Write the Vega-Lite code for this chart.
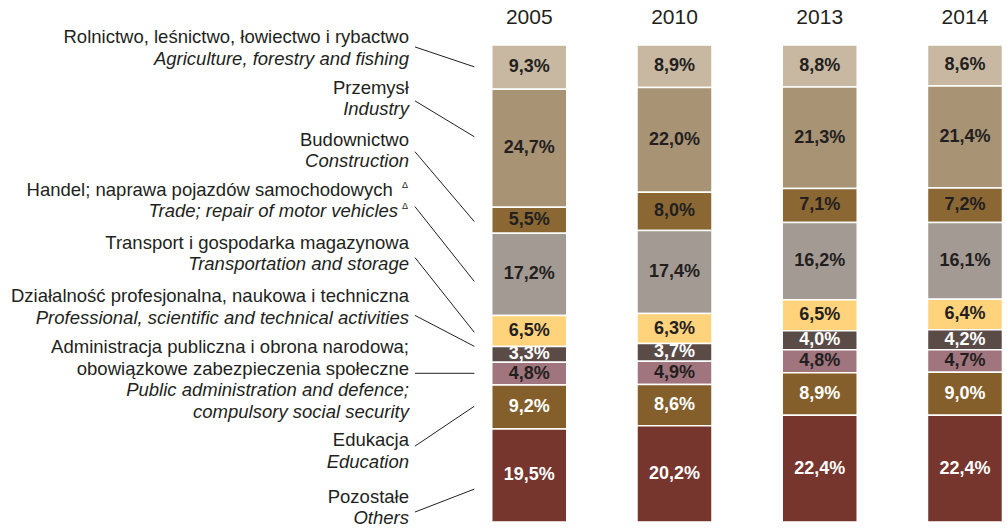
{
  "$schema": "https://vega.github.io/schema/vega-lite/v6.json",
  "width": 1007,
  "height": 528,
  "autosize": {"type": "fit", "contains": "padding"},
  "padding": 0,
  "background": "white",
  "config": {"view": {"stroke": null}, "font": "Liberation Sans"},
  "datasets": {
    "shares": [
      {"year": "2005", "cat": "agri", "share": 9.3},
      {"year": "2005", "cat": "ind", "share": 24.7},
      {"year": "2005", "cat": "constr", "share": 5.5},
      {"year": "2005", "cat": "trade", "share": 17.2},
      {"year": "2005", "cat": "transp", "share": 6.5},
      {"year": "2005", "cat": "prof", "share": 3.3},
      {"year": "2005", "cat": "admin", "share": 4.8},
      {"year": "2005", "cat": "edu", "share": 9.2},
      {"year": "2005", "cat": "other", "share": 19.5},
      {"year": "2010", "cat": "agri", "share": 8.9},
      {"year": "2010", "cat": "ind", "share": 22.0},
      {"year": "2010", "cat": "constr", "share": 8.0},
      {"year": "2010", "cat": "trade", "share": 17.4},
      {"year": "2010", "cat": "transp", "share": 6.3},
      {"year": "2010", "cat": "prof", "share": 3.7},
      {"year": "2010", "cat": "admin", "share": 4.9},
      {"year": "2010", "cat": "edu", "share": 8.6},
      {"year": "2010", "cat": "other", "share": 20.2},
      {"year": "2013", "cat": "agri", "share": 8.8},
      {"year": "2013", "cat": "ind", "share": 21.3},
      {"year": "2013", "cat": "constr", "share": 7.1},
      {"year": "2013", "cat": "trade", "share": 16.2},
      {"year": "2013", "cat": "transp", "share": 6.5},
      {"year": "2013", "cat": "prof", "share": 4.0},
      {"year": "2013", "cat": "admin", "share": 4.8},
      {"year": "2013", "cat": "edu", "share": 8.9},
      {"year": "2013", "cat": "other", "share": 22.4},
      {"year": "2014", "cat": "agri", "share": 8.6},
      {"year": "2014", "cat": "ind", "share": 21.4},
      {"year": "2014", "cat": "constr", "share": 7.2},
      {"year": "2014", "cat": "trade", "share": 16.1},
      {"year": "2014", "cat": "transp", "share": 6.4},
      {"year": "2014", "cat": "prof", "share": 4.2},
      {"year": "2014", "cat": "admin", "share": 4.7},
      {"year": "2014", "cat": "edu", "share": 9.0},
      {"year": "2014", "cat": "other", "share": 22.4}
    ],
    "labels": [
      {"pl": ["Rolnictwo, leśnictwo, łowiectwo i rybactwo"], "en": ["Agriculture, forestry and fishing"], "ty": -1.57, "l1": 0.42, "l2": 4.6},
      {"pl": ["Przemysł"], "en": ["Industry"], "ty": 9.0, "l1": 11.72, "l2": 19.25},
      {"pl": ["Budownictwo"], "en": ["Construction"], "ty": 19.87, "l1": 22.38, "l2": 37.03},
      {"pl": ["Handel; naprawa pojazdów samochodowych"], "en": ["Trade; repair of motor vehicles"], "ty": 30.33, "l1": 33.89, "l2": 49.58, "sup": "Δ"},
      {"pl": ["Transport i gospodarka magazynowa"], "en": ["Transportation and storage"], "ty": 41.42, "l1": 44.56, "l2": 60.25},
      {"pl": ["Działalność profesjonalna, naukowa i techniczna"], "en": ["Professional, scientific and technical activities"], "ty": 52.72, "l1": 56.69, "l2": 63.18},
      {"pl": ["Administracja publiczna i obrona narodowa;", "obowiązkowe zabezpieczenia społeczne"], "en": ["Public administration and defence;", "compulsory social security"], "ty": 63.39, "l1": 68.83, "l2": 68.83},
      {"pl": ["Edukacja"], "en": ["Education"], "ty": 82.85, "l1": 84.1, "l2": 75.73},
      {"pl": ["Pozostałe"], "en": ["Others"], "ty": 94.67, "l1": 97.91, "l2": 93.1}
    ]
  },
  "layer": [
    {
      "data": {"name": "shares"},
      "transform": [
        {"calculate": "indexof(['agri','ind','constr','trade','transp','prof','admin','edu','other'], datum.cat)", "as": "ci"},
        {"calculate": "indexof(['2005','2010','2013','2014'], datum.year)", "as": "col"},
        {"window": [{"op": "sum", "field": "share", "as": "cum"}], "groupby": ["year"], "sort": [{"field": "ci", "order": "ascending"}]},
        {"calculate": "datum.cum - datum.share", "as": "y0"},
        {"calculate": "datum.cum - datum.share / 2", "as": "ymid"},
        {"calculate": "replace(format(datum.share, '.1f'), '.', ',') + '%'", "as": "lab"}
      ],
      "layer": [
        {
          "mark": {"type": "bar", "width": 75, "stroke": "white", "strokeWidth": 1.5},
          "encoding": {
            "x": {"field": "col", "type": "quantitative", "scale": {"domain": [-3.6094, 3.2549], "nice": false, "zero": false}, "axis": null},
            "y": {"field": "y0", "type": "quantitative", "scale": {"domain": [-9.414, 101.046], "reverse": true, "nice": false, "zero": false}, "axis": null},
            "y2": {"field": "cum"},
            "color": {
              "field": "cat", "type": "nominal", "legend": null,
              "scale": {
                "domain": ["agri", "ind", "constr", "trade", "transp", "prof", "admin", "edu", "other"],
                "range": ["#c8b8a2", "#a89374", "#8a6733", "#a39a94", "#ffd27c", "#5b4b47", "#a0757e", "#845f2b", "#76352d"]
              }
            }
          }
        },
        {
          "mark": {"type": "text", "fontSize": 18, "fontWeight": "bold", "baseline": "middle", "align": "center"},
          "encoding": {
            "x": {"field": "col", "type": "quantitative", "scale": {"domain": [-3.6094, 3.2549], "nice": false, "zero": false}, "axis": null},
            "y": {"field": "ymid", "type": "quantitative", "scale": {"domain": [-9.414, 101.046], "reverse": true, "nice": false, "zero": false}, "axis": null},
            "text": {"field": "lab"},
            "color": {"condition": {"test": "indexof(['prof','edu','other'], datum.cat) >= 0", "value": "#ffffff"}, "value": "#231f20"}
          }
        },
        {
          "transform": [{"filter": "datum.cat == 'agri'"}],
          "mark": {"type": "text", "fontSize": 21, "baseline": "middle", "align": "center", "color": "#231f20"},
          "encoding": {
            "x": {"field": "col", "type": "quantitative", "scale": {"domain": [-3.6094, 3.2549], "nice": false, "zero": false}, "axis": null},
            "y": {"datum": -5.65, "type": "quantitative", "scale": {"domain": [-9.414, 101.046], "reverse": true, "nice": false, "zero": false}, "axis": null},
            "text": {"field": "year"}
          }
        }
      ]
    },
    {
      "data": {"name": "labels"},
      "transform": [
        {"calculate": "datum.ty + length(datum.pl) * 4.498", "as": "ey"}
      ],
      "layer": [
        {
          "transform": [{"filter": "!datum.sup"}],
          "mark": {"type": "text", "fontSize": 18.5, "baseline": "middle", "align": "right", "lineHeight": 21.5, "color": "#231f20"},
          "encoding": {
            "x": {"datum": -0.828, "type": "quantitative", "scale": {"domain": [-3.6094, 3.2549], "nice": false, "zero": false}, "axis": null},
            "y": {"field": "ty", "type": "quantitative", "scale": {"domain": [-9.414, 101.046], "reverse": true, "nice": false, "zero": false}, "axis": null},
            "text": {"field": "pl"}
          }
        },
        {
          "transform": [{"filter": "!datum.sup"}],
          "mark": {"type": "text", "fontSize": 18.5, "fontStyle": "italic", "baseline": "middle", "align": "right", "lineHeight": 21.5, "color": "#231f20"},
          "encoding": {
            "x": {"datum": -0.828, "type": "quantitative", "scale": {"domain": [-3.6094, 3.2549], "nice": false, "zero": false}, "axis": null},
            "y": {"field": "ey", "type": "quantitative", "scale": {"domain": [-9.414, 101.046], "reverse": true, "nice": false, "zero": false}, "axis": null},
            "text": {"field": "en"}
          }
        },
        {
          "transform": [{"filter": "datum.sup"}],
          "mark": {"type": "text", "fontSize": 18.5, "baseline": "middle", "align": "right", "color": "#231f20"},
          "encoding": {
            "x": {"datum": -0.94, "type": "quantitative", "scale": {"domain": [-3.6094, 3.2549], "nice": false, "zero": false}, "axis": null},
            "y": {"field": "ty", "type": "quantitative", "scale": {"domain": [-9.414, 101.046], "reverse": true, "nice": false, "zero": false}, "axis": null},
            "text": {"field": "pl"}
          }
        },
        {
          "transform": [{"filter": "datum.sup"}],
          "mark": {"type": "text", "fontSize": 18.5, "fontStyle": "italic", "baseline": "middle", "align": "right", "color": "#231f20"},
          "encoding": {
            "x": {"datum": -0.903, "type": "quantitative", "scale": {"domain": [-3.6094, 3.2549], "nice": false, "zero": false}, "axis": null},
            "y": {"field": "ey", "type": "quantitative", "scale": {"domain": [-9.414, 101.046], "reverse": true, "nice": false, "zero": false}, "axis": null},
            "text": {"field": "en"}
          }
        },
        {
          "transform": [{"filter": "datum.sup"}],
          "mark": {"type": "text", "fontSize": 9, "baseline": "middle", "align": "right", "dy": -5, "color": "#231f20"},
          "encoding": {
            "x": {"datum": -0.835, "type": "quantitative", "scale": {"domain": [-3.6094, 3.2549], "nice": false, "zero": false}, "axis": null},
            "y": {"field": "ty", "type": "quantitative", "scale": {"domain": [-9.414, 101.046], "reverse": true, "nice": false, "zero": false}, "axis": null},
            "text": {"field": "sup"}
          }
        },
        {
          "transform": [{"filter": "datum.sup"}],
          "mark": {"type": "text", "fontSize": 9, "baseline": "middle", "align": "right", "dy": -5, "color": "#231f20"},
          "encoding": {
            "x": {"datum": -0.835, "type": "quantitative", "scale": {"domain": [-3.6094, 3.2549], "nice": false, "zero": false}, "axis": null},
            "y": {"field": "ey", "type": "quantitative", "scale": {"domain": [-9.414, 101.046], "reverse": true, "nice": false, "zero": false}, "axis": null},
            "text": {"field": "sup"}
          }
        },
        {
          "mark": {"type": "rule", "color": "#231f20", "strokeWidth": 1},
          "encoding": {
            "x": {"datum": -0.787, "type": "quantitative", "scale": {"domain": [-3.6094, 3.2549], "nice": false, "zero": false}, "axis": null},
            "x2": {"datum": -0.378},
            "y": {"field": "l1", "type": "quantitative", "scale": {"domain": [-9.414, 101.046], "reverse": true, "nice": false, "zero": false}, "axis": null},
            "y2": {"field": "l2"}
          }
        }
      ]
    }
  ]
}
